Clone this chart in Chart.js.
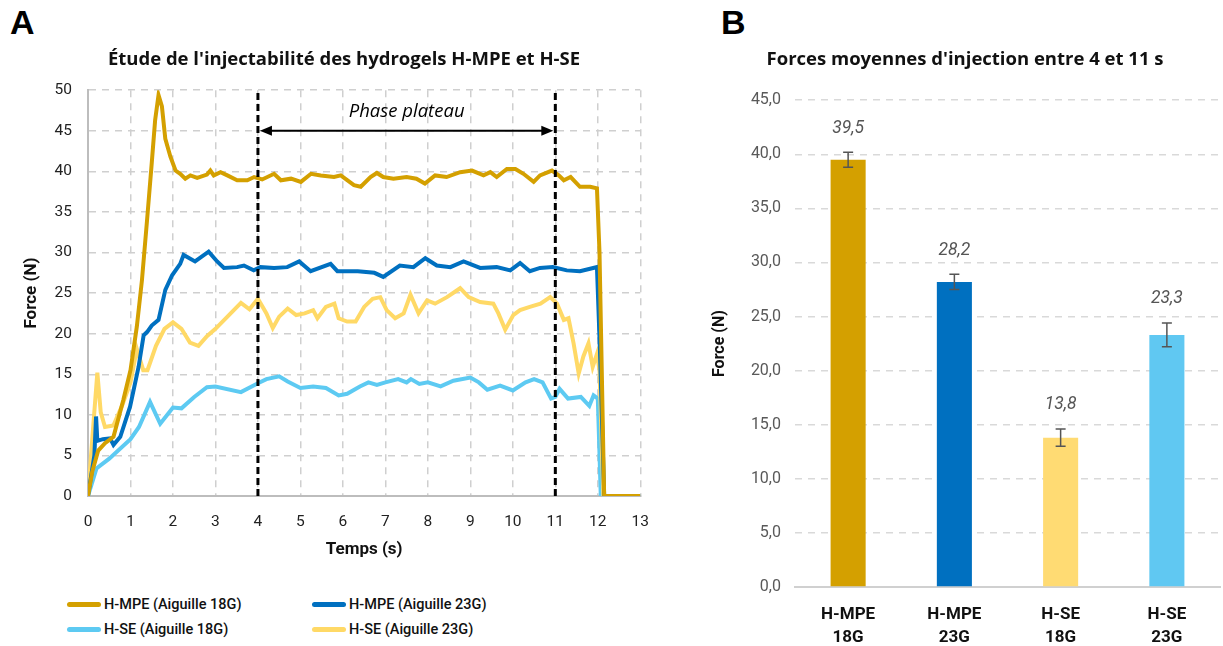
<!DOCTYPE html>
<html>
<head>
<meta charset="utf-8">
<script src="https://cdn.jsdelivr.net/npm/chart.js@4.4.1/dist/chart.umd.min.js"></script>
<style>
  body { margin:0; background:#fff; width:1223px; height:646px; position:relative; overflow:hidden; font-family: Roboto, sans-serif; }
  .panel { position:absolute; font: bold 34px "Liberation Sans", Arial, sans-serif; color:#000; }
  #cA { position:absolute; left:0; top:0; }
  #cB { position:absolute; left:660px; top:0; }
  .leg { position:absolute; display:flex; align-items:center; font: 500 14.5px Roboto, sans-serif; color:#111; white-space:nowrap; }
  .leg span.sw { display:inline-block; width:34px; height:5px; border-radius:2.5px; margin-right:3px; }
</style>
</head>
<body>
<div class="panel" style="left:10px; top:3px;">A</div>
<div class="panel" style="left:721px; top:3px;">B</div>
<canvas id="cB" width="563" height="646"></canvas>
<canvas id="cA" width="666" height="570"></canvas>
<div id="legend"></div>
<script>
// ---- panel A: force curves ----
const seriesNames = ['H-MPE (Aiguille 18G)', 'H-MPE (Aiguille 23G)', 'H-SE (Aiguille 18G)', 'H-SE (Aiguille 23G)'];
const seriesColors = ['#D4A000', '#0070C0', '#5DCAF2', '#FFD966'];

const tMpe18 = [0, 0.1, 0.24, 0.4, 0.6, 0.83, 1.0, 1.15, 1.27, 1.39, 1.5, 1.58, 1.66, 1.74, 1.82, 1.94, 2.06, 2.17, 2.29, 2.41, 2.57, 2.8, 2.88, 2.96, 3.12, 3.28, 3.51, 3.75, 3.91, 4.1, 4.38, 4.54, 4.78, 5.01, 5.25, 5.48, 5.79, 5.95, 6.26, 6.42, 6.65, 6.8, 6.95, 7.19, 7.5, 7.73, 7.93, 8.17, 8.44, 8.76, 9.04, 9.31, 9.47, 9.62, 9.86, 10.06, 10.25, 10.49, 10.64, 10.92, 11.08, 11.2, 11.36, 11.58, 11.82, 11.98, 12.04, 12.15, 13];
const fMpe18 = [0, 3, 5.6, 6.5, 7.3, 11.8, 15.5, 20.9, 26.6, 34.0, 41.0, 46.3, 49.4, 48.0, 44.0, 41.8, 40.1, 39.7, 39.1, 39.5, 39.2, 39.6, 40.1, 39.5, 39.9, 39.5, 38.9, 38.9, 39.3, 39.0, 39.7, 38.9, 39.1, 38.7, 39.7, 39.5, 39.3, 39.5, 38.3, 38.1, 39.3, 39.8, 39.3, 39.1, 39.3, 39.1, 38.5, 39.5, 39.3, 39.9, 40.1, 39.5, 39.9, 39.3, 40.3, 40.3, 39.7, 38.7, 39.5, 40.1, 39.5, 38.9, 39.3, 38.1, 38.1, 37.9, 30, 0, 0];

const tMpe23 = [0, 0.15, 0.19, 0.22, 0.35, 0.52, 0.6, 0.76, 0.99, 1.19, 1.31, 1.39, 1.5, 1.66, 1.82, 1.98, 2.17, 2.25, 2.52, 2.84, 3.04, 3.2, 3.51, 3.67, 3.9, 4.06, 4.38, 4.69, 4.97, 5.24, 5.71, 5.87, 6.35, 6.74, 6.95, 7.34, 7.66, 7.94, 8.21, 8.53, 8.84, 9.23, 9.62, 9.94, 10.17, 10.4, 10.64, 10.94, 11.27, 11.58, 11.82, 11.98, 12.05, 12.15, 13];
const fMpe23 = [0, 5, 9.8, 6.8, 7.0, 7.1, 6.3, 7.3, 11.0, 15.9, 19.8, 20.2, 21.0, 21.7, 25.4, 27.2, 28.6, 29.7, 28.9, 30.1, 28.9, 28.1, 28.2, 28.4, 27.8, 28.2, 28.1, 28.2, 28.9, 27.7, 28.6, 27.7, 27.7, 27.5, 27.0, 28.4, 28.2, 29.3, 28.4, 28.2, 28.9, 28.1, 28.2, 27.8, 28.7, 27.7, 28.1, 28.2, 27.8, 27.7, 28.0, 28.2, 18.0, 0, 0];

const tSe18 = [0, 0.2, 0.5, 1.0, 1.2, 1.46, 1.7, 2.0, 2.2, 2.5, 2.8, 3.0, 3.6, 4.0, 4.2, 4.5, 4.7, 5.0, 5.3, 5.6, 5.9, 6.1, 6.4, 6.6, 6.8, 7.0, 7.3, 7.5, 7.6, 7.8, 8.0, 8.3, 8.6, 9.0, 9.2, 9.4, 9.7, 10.0, 10.3, 10.5, 10.7, 10.9, 11.0, 11.1, 11.3, 11.6, 11.8, 11.9, 12.0, 12.07, 13];
const fSe18 = [0, 3.4, 4.6, 7.0, 8.5, 11.6, 8.9, 10.9, 10.8, 12.2, 13.4, 13.5, 12.8, 13.9, 14.4, 14.75, 14.1, 13.3, 13.5, 13.3, 12.4, 12.6, 13.5, 14.0, 13.7, 14.0, 14.4, 14.0, 14.4, 13.8, 14.0, 13.5, 14.2, 14.6, 14.0, 13.1, 13.6, 13.0, 14.0, 14.4, 14.0, 12.0, 12.2, 13.2, 12.0, 12.2, 11.1, 12.4, 12.0, 0, 0];

const tSe23 = [0, 0.1, 0.22, 0.3, 0.4, 0.6, 0.8, 1.0, 1.15, 1.3, 1.4, 1.6, 1.8, 2.0, 2.2, 2.4, 2.6, 2.8, 3.0, 3.3, 3.6, 3.8, 4.0, 4.2, 4.35, 4.5, 4.7, 4.9, 5.1, 5.3, 5.4, 5.6, 5.8, 5.9, 6.1, 6.3, 6.5, 6.7, 6.88, 7.03, 7.23, 7.43, 7.59, 7.78, 7.98, 8.17, 8.45, 8.76, 8.96, 9.23, 9.54, 9.66, 9.82, 10.01, 10.17, 10.4, 10.65, 10.88, 11.04, 11.2, 11.31, 11.43, 11.55, 11.66, 11.78, 11.88, 11.98, 12.04, 12.13, 13];
const fSe23 = [0, 7, 15.2, 10.3, 8.5, 8.7, 11.1, 14.0, 18.1, 15.5, 15.5, 18.5, 20.6, 21.4, 20.6, 18.9, 18.5, 19.7, 20.6, 22.2, 23.8, 23.0, 24.3, 22.5, 20.7, 22.1, 23.1, 22.3, 22.5, 22.9, 21.9, 23.3, 23.7, 21.9, 21.5, 21.5, 23.3, 24.3, 24.5, 22.9, 21.9, 22.5, 24.8, 22.5, 24.1, 23.7, 24.5, 25.6, 24.5, 23.9, 23.7, 22.5, 20.5, 22.3, 22.9, 23.3, 23.7, 24.5, 23.7, 21.7, 21.9, 18.8, 15.1, 17.2, 18.8, 15.9, 17.5, 15.5, 0, 0];

const plateauStart = 4, plateauEnd = 11, arrowLevel = 45, plateauLabel = 'Phase plateau';

// ---- panel B: mean forces ----
const barLabels = [['H-MPE', '18G'], ['H-MPE', '23G'], ['H-SE', '18G'], ['H-SE', '23G']];
const barValues = [39.5, 28.2, 13.8, 23.3];
const barErrors = [0.7, 0.7, 0.8, 1.1];
const barColors = ['#D4A000', '#0070C0', '#FFDB73', '#60C8F2'];

const comma = v => v.toFixed(1).replace('.', ',');
function pts(ts, fs){ return ts.map((t,i)=>({x:t, y:fs[i]})); }

const curves = [pts(tMpe18,fMpe18), pts(tMpe23,fMpe23), pts(tSe18,fSe18), pts(tSe23,fSe23)];
const lineSets = curves.map((d,i)=>({
  label: seriesNames[i], data: d, borderColor: seriesColors[i], borderWidth: 4,
  pointRadius: 0, tension: 0, fill: false, order: [1,2,4,3][i]
}));
// plateau boundaries as dashed black lines
[plateauStart, plateauEnd].forEach(x=>{
  lineSets.push({label:'', data:[{x:x,y:0},{x:x,y:50}], borderColor:'#000', borderWidth:3,
    borderDash:[7,4], pointRadius:0, order:0});
});

const plateauArrow = {
  id: 'plateauArrow',
  afterDatasetsDraw(chart){
    const {ctx, scales:{x, y}} = chart;
    const x1 = x.getPixelForValue(plateauStart), x2 = x.getPixelForValue(plateauEnd);
    const yy = y.getPixelForValue(arrowLevel);
    ctx.save();
    ctx.strokeStyle = '#000'; ctx.fillStyle = '#000'; ctx.lineWidth = 2;
    ctx.beginPath(); ctx.moveTo(x1+8, yy); ctx.lineTo(x2-8, yy); ctx.stroke();
    ctx.beginPath(); ctx.moveTo(x1+2, yy); ctx.lineTo(x1+14, yy-5); ctx.lineTo(x1+14, yy+5); ctx.closePath(); ctx.fill();
    ctx.beginPath(); ctx.moveTo(x2-2, yy); ctx.lineTo(x2-14, yy-5); ctx.lineTo(x2-14, yy+5); ctx.closePath(); ctx.fill();
    ctx.font = 'italic 18.5px "Open Sans", sans-serif';
    ctx.textAlign = 'center'; ctx.textBaseline = 'middle';
    ctx.fillText(plateauLabel, x.getPixelForValue((plateauStart+plateauEnd)/2), y.getPixelForValue(47.3));
    ctx.restore();
  }
};

new Chart(document.getElementById('cA'), {
  type: 'line',
  data: { datasets: lineSets },
  options: {
    animation: false, responsive: false,
    layout: { padding: { left: 22, right: 0, bottom: 10, top: 0 } },
    plugins: {
      legend: { display: false }, tooltip: { enabled: false },
      title: { display: true, text: "Étude de l'injectabilité des hydrogels H-MPE et H-SE",
        font: { family: 'Open Sans', size: 18.5, weight: 'bold' }, color: '#111', padding: { top: 49, bottom: 19 } }
    },
    scales: {
      x: { type: 'linear', min: 0, max: 13,
        ticks: { stepSize: 1, color: '#222', font: { family: 'Roboto', size: 15.5 }, padding: 17 },
        grid: { color:'#cfcfcf', lineWidth:1.5, drawTicks:false },
        border: { color:'#bdbdbd', width:2, dash:[7,6] },
        title: { display: true, text: 'Temps (s)', color: '#111', font: { family: 'Roboto', size: 17, weight: 'bold' }, padding: { top: 8, bottom: 0 } },
        afterFit(s){ s.height = 64; }
      },
      y: { min: 0, max: 50,
        ticks: { stepSize: 5, color: '#222', font: { family: 'Roboto', size: 15.5 }, padding: 16 },
        grid: { color:'#cfcfcf', lineWidth:1.5, drawTicks:false },
        border: { color:'#bdbdbd', width:2, dash:[7,6] },
        title: { display: true, text: 'Force (N)', color: '#111', font: { family: 'Roboto', size: 17, weight: 'bold' }, padding: 0 },
        afterFit(s){ s.width = 66; }
      }
    }
  },
  plugins: [plateauArrow]
});

const errorBars = {
  id: 'errorBars',
  afterDatasetsDraw(chart){
    const {ctx, scales:{y}} = chart;
    const meta = chart.getDatasetMeta(0);
    ctx.save();
    meta.data.forEach((bar,i)=>{
      const top = y.getPixelForValue(barValues[i] + barErrors[i]);
      const bot = y.getPixelForValue(barValues[i] - barErrors[i]);
      ctx.strokeStyle = '#555'; ctx.lineWidth = 1.5;
      ctx.beginPath();
      ctx.moveTo(bar.x, top); ctx.lineTo(bar.x, bot);
      ctx.moveTo(bar.x-5, top); ctx.lineTo(bar.x+5, top);
      ctx.moveTo(bar.x-5, bot); ctx.lineTo(bar.x+5, bot);
      ctx.stroke();
      ctx.fillStyle = '#555';
      ctx.font = 'italic 17.5px Roboto, sans-serif';
      ctx.textAlign = 'center'; ctx.textBaseline = 'middle';
      ctx.fillText(comma(barValues[i]), bar.x, top - 24);
    });
    ctx.restore();
  }
};

new Chart(document.getElementById('cB'), {
  type: 'bar',
  data: { labels: barLabels, datasets: [{ data: barValues, backgroundColor: barColors, categoryPercentage: 1, barPercentage: 0.33 }] },
  options: {
    animation: false, responsive: false,
    layout: { padding: { left: 50, right: 3, bottom: 0, top: 0 } },
    plugins: {
      legend: { display: false }, tooltip: { enabled: false },
      title: { display: true, text: "Forces moyennes d'injection entre 4 et 11 s",
        font: { family: 'Open Sans', size: 18.5, weight: 'bold' }, color: '#111', padding: { top: 49, bottom: 29 } }
    },
    scales: {
      x: { grid: { display: false }, border: { color:'#d0d0d0', width:2 },
        ticks: { color: '#111', font: { family: 'Roboto', size: 17, weight: 'bold', lineHeight: 1.35 }, padding: 8 },
        afterFit(s){ s.height = 59; }
      },
      y: { min: 0, max: 45,
        ticks: { stepSize: 5, color: '#595959', font: { family: 'Roboto', size: 16 }, padding: 14, callback: v => comma(v) },
        grid: { color:'#d9d9d9', lineWidth:1.5, drawTicks:false },
        border: { display: false, dash:[7,6] },
        title: { display: true, text: 'Force (N)', color: '#111', font: { family: 'Roboto', size: 16, weight: 'bold' }, padding: 0 },
        afterFit(s){ s.width = 85; }
      }
    }
  },
  plugins: [errorBars]
});

// legend for panel A
const legPos = [[67,596],[312,596],[67,621],[312,621]];
const legend = document.getElementById('legend');
seriesNames.forEach((name,k)=>{
  const d = document.createElement('div');
  d.className = 'leg';
  d.style.left = legPos[k][0]+'px'; d.style.top = legPos[k][1]+'px';
  d.innerHTML = '<span class="sw" style="background:'+seriesColors[k]+'"></span>'+name;
  legend.appendChild(d);
});
</script>
</body>
</html>
